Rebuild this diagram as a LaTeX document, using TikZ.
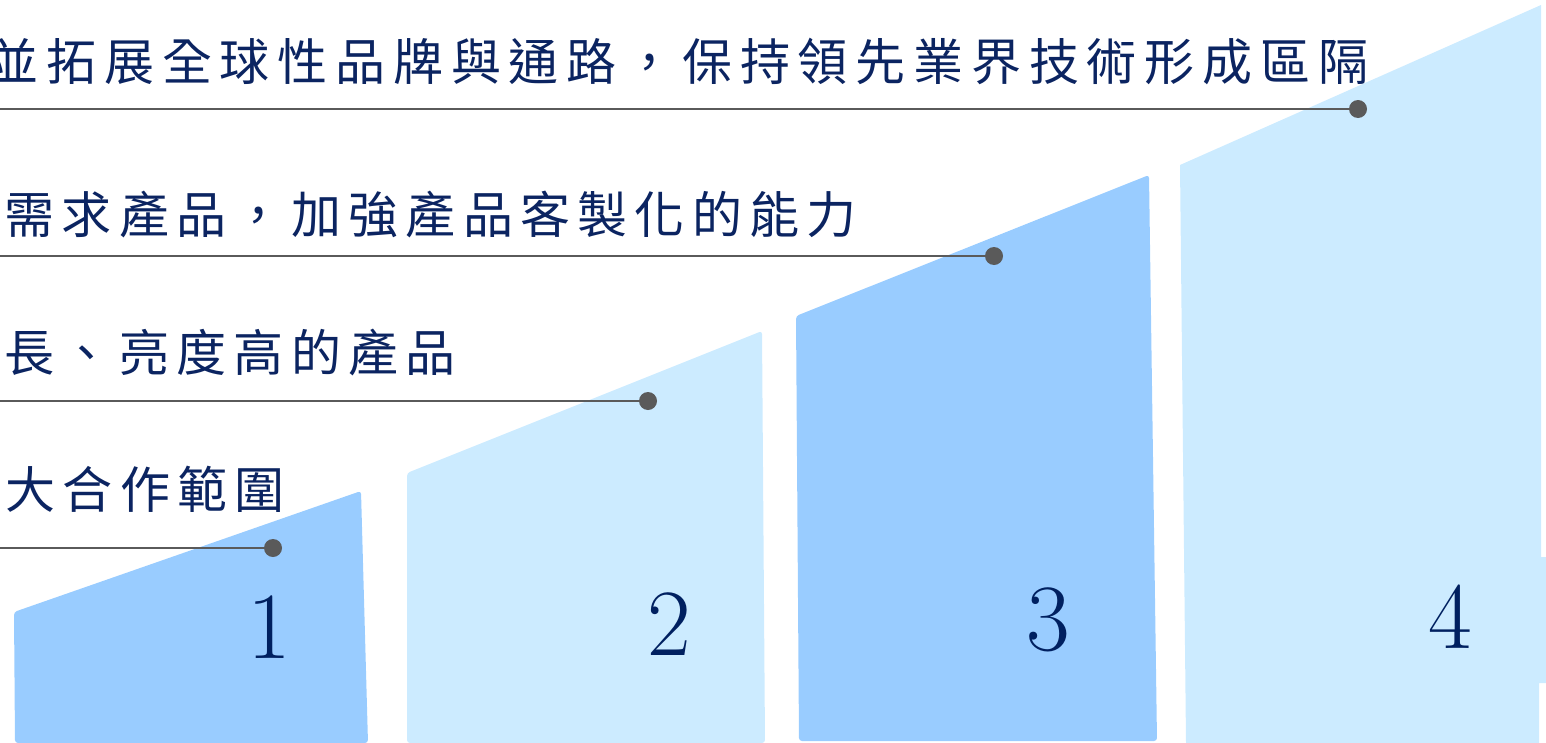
\documentclass[tikz,border=0pt]{standalone}
\usepackage{fontspec}
\newfontfamily\cjk[LetterSpace=14.6]{Noto Sans CJK TC}
\newfontfamily\cjkwide[LetterSpace=15.6]{Noto Sans CJK TC}
\definecolor{navy}{HTML}{0B2461}
\definecolor{numblue}{HTML}{002060}
\definecolor{bardark}{HTML}{99CCFF}
\definecolor{barlight}{HTML}{CCEBFF}
\definecolor{leader}{HTML}{5A5A5A}
\tikzset{
  barA/.style={fill=bardark, draw=none, rounded corners=3bp},
  barB/.style={fill=barlight, draw=none, rounded corners=3bp},
  goal/.style={anchor=base west, inner sep=0pt, text=navy, font=\cjk\fontsize{50bp}{60bp}\selectfont},
  goalwide/.style={anchor=base west, inner sep=0pt, text=navy, font=\cjkwide\fontsize{50bp}{60bp}\selectfont},
  num/.style={anchor=base, inner sep=0pt, text=numblue, font=\fontsize{95bp}{110bp}\selectfont},
  dot/.style={circle, fill=leader, draw=none, minimum size=18bp, inner sep=0pt},
  leaderline/.style={draw=leader, line width=2.6bp}
}
\begin{document}
\begin{tikzpicture}[x=1bp,y=-1bp]
\useasboundingbox (0,0) rectangle (1546,743);
% bars
\fill[barA] (14,612) -- (361,491) -- (368,743) -- (15,743) -- cycle;
\fill[barB] (407,473) -- (762,331) -- (765,743) -- (407,743) -- cycle;
\fill[barA] (796,316) -- (1149,175) -- (1157,741) -- (799,741) -- cycle;
\fill[fill=barlight] (1180,165) -- (1541,5) -- (1541,557) -- (1546,557) -- (1546,683) -- (1539,683) -- (1539,743) -- (1186,743) -- cycle;
% numbers
\node[num] (n1) at (269.5,658) {1};
\node[num] (n2) at (669,655) {2};
\node[num] (n3) at (1048,650) {3};
\node[num] (n4) at (1450.5,648) {4};
% texts
\node[goalwide] (t1) at (-11.5,80.5) {並拓展全球性品牌與通路，保持領先業界技術形成區隔};
\node[goal] (t2) at (4.5,233) {需求產品，加強產品客製化的能力};
\node[goal] (t3) at (4.5,371) {長、亮度高的產品};
\node[goal] (t4) at (5.5,508) {大合作範圍};
% leader lines and dots
\coordinate (s1) at (-2,109);
\coordinate (s2) at (-2,256);
\coordinate (s3) at (-2,401);
\coordinate (s4) at (-2,548);
\node[dot] (d1) at (1358,109) {};
\node[dot] (d2) at (994,256) {};
\node[dot] (d3) at (648,401) {};
\node[dot] (d4) at (273,548) {};
\draw[leaderline] (s1) -- (d1);
\draw[leaderline] (s2) -- (d2);
\draw[leaderline] (s3) -- (d3);
\draw[leaderline] (s4) -- (d4);
\end{tikzpicture}
\end{document}
